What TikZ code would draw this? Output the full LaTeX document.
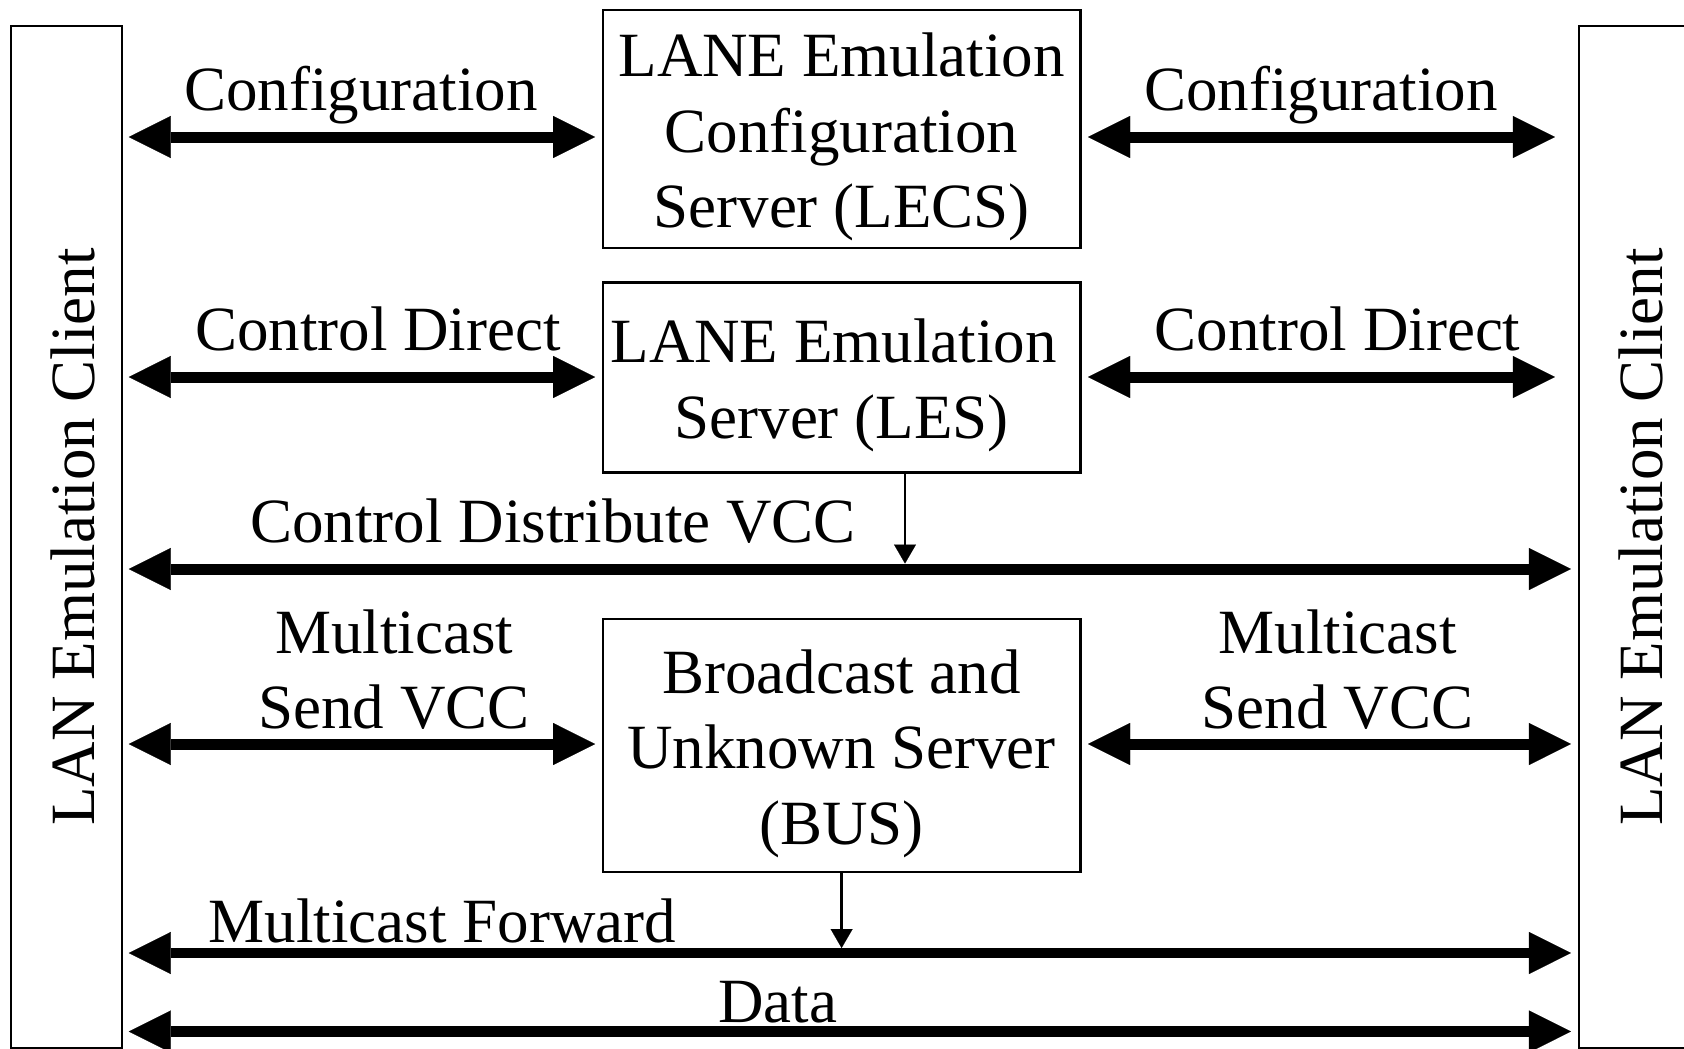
\documentclass[tikz,border=0pt]{standalone}
\usepackage{fontspec}
\setmainfont{Liberation Serif}
\usetikzlibrary{arrows.meta,calc}
\newcommand{\bigfont}{\fontsize{63}{75.7}\selectfont}
\newcommand{\topstrut}{\rule{0pt}{0.95em}}
\begin{document}
\begin{tikzpicture}[x=1pt,y=1pt,
  box/.style={draw, line width=2.2pt, inner sep=0pt, align=center, font=\bigfont},
  client/.style={draw, line width=2.2pt, inner sep=0pt, minimum width=110.7pt, minimum height=1021.7pt, font=\bigfont},
  bigarrow/.style={line width=11pt, {Triangle[length=42pt,width=42pt,line width=0.1pt]}-{Triangle[length=42pt,width=42pt,line width=0.1pt]}},
  smallarrow/.style={line width=2.5pt, -{Triangle[length=19pt,width=22pt,line width=0.1pt]}},
  lbl/.style={font=\bigfont, inner sep=0pt, anchor=base},
  lbltwo/.style={font=\bigfont, inner sep=0pt, anchor=south, align=center}]
\useasboundingbox (0,0) rectangle (1684,-1049);
\clip (0,0) rectangle (1684,-1049);
\fill[white] (0,0) rectangle (1684,-1049);

% client boxes
\node[client] (cl) at (66.3,-536.9) {\rotatebox{90}{\rule{0pt}{57pt}LAN Emulation Client}};
\node[client] (cr) at (1634.4,-536.9) {\rotatebox{90}{\rule{0pt}{57pt}LAN Emulation Client}};

% servers
\node[box, minimum width=477.8pt, minimum height=238pt] (lecs) at (841.6,-129)
  {\topstrut LANE Emulation\\Configuration\\Server (LECS)};
\node[box, minimum width=477.8pt, minimum height=190pt] (les) at (841.6,-377.5)
  {\topstrut LANE Emulation\rule{16pt}{0pt}\\Server (LES)};
\node[box, minimum width=477.8pt, minimum height=253.7pt] (bus) at (841.6,-745.5)
  {\topstrut Broadcast and\\Unknown Server\\(BUS)};

% Configuration
\draw[bigarrow, shorten <=6pt, shorten >=6.5pt] (cl.east |- 0,-137) -- (lecs.west |- 0,-137);
\draw[bigarrow, shorten <=6.5pt, shorten >=23pt] (lecs.east |- 0,-137) -- (cr.west |- 0,-137);
\node[lbl] (cfgl) at (361,-110.6) {Configuration};
\node[lbl] (cfgr) at (1321,-110.6) {Configuration};

% Control Direct
\draw[bigarrow, shorten <=6pt, shorten >=6.5pt] (cl.east |- 0,-377) -- (les.west |- 0,-377);
\draw[bigarrow, shorten <=6.5pt, shorten >=23pt] (les.east |- 0,-377) -- (cr.west |- 0,-377);
\node[lbl] (cdl) at (378,-350) {Control Direct};
\node[lbl] (cdr) at (1337.6,-350) {Control Direct};

% Control Distribute VCC
\draw[bigarrow, shorten <=6pt, shorten >=7pt] (cl.east |- 0,-569) -- (cr.west |- 0,-569);
\node[lbl] (cdv) at (553,-542) {Control Distribute VCC};
\coordinate (cdvtop) at (905,-563.5);
\draw[smallarrow] (les.south -| cdvtop) -- (cdvtop);

% Multicast Send VCC
\draw[bigarrow, shorten <=6pt, shorten >=6.5pt] (cl.east |- 0,-744) -- (bus.west |- 0,-744);
\draw[bigarrow, shorten <=6.5pt, shorten >=7pt] (bus.east |- 0,-744) -- (cr.west |- 0,-744);
\node[lbltwo] (msl) at (394,-730) {Multicast\\Send VCC};
\node[lbltwo] (msr) at (1337.6,-730) {Multicast\\Send VCC};

% Multicast Forward
\draw[bigarrow, line width=10.5pt, shorten <=6pt, shorten >=7pt] (cl.east |- 0,-953) -- (cr.west |- 0,-953);
\node[lbl] (mf) at (442.5,-942) {Multicast Forward};
\coordinate (mftop) at (841.6,-948);
\draw[smallarrow] (bus.south) -- (mftop);

% Data
\draw[bigarrow, line width=10.5pt, shorten <=6pt, shorten >=7pt] (cl.east |- 0,-1031.5) -- (cr.west |- 0,-1031.5);
\node[lbl] (data) at (777.6,-1022.5) {Data};
\end{tikzpicture}
\end{document}
